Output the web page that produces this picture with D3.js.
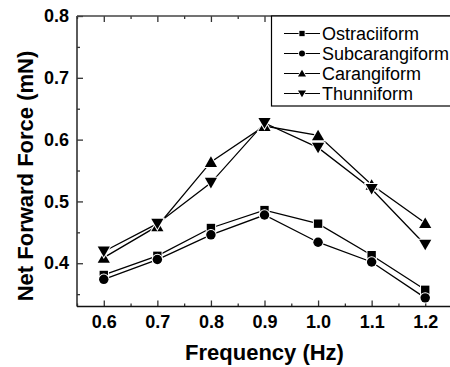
<!doctype html>
<html>
<head>
<meta charset="utf-8">
<title>Net Forward Force vs Frequency</title>
<script src="https://cdn.jsdelivr.net/npm/d3@7"></script>
<style>
  body { margin: 0; background: white; }
  svg { display: block; font-family: "Liberation Sans", Arial, sans-serif; }
</style>
</head>
<body>
<svg id="chart" width="450" height="367"></svg>
<script>
var freq = [0.6, 0.7, 0.8, 0.9, 1.0, 1.1, 1.2];
var ostraciiform   = [0.381, 0.412, 0.457, 0.486, 0.464, 0.413, 0.357];
var subcarangiform = [0.374, 0.406, 0.446, 0.478, 0.434, 0.402, 0.344];
var carangiform    = [0.409, 0.460, 0.564, 0.622, 0.607, 0.527, 0.465];
var thunniform     = [0.419, 0.464, 0.530, 0.627, 0.587, 0.520, 0.430];
var xTicks = [0.6, 0.7, 0.8, 0.9, 1.0, 1.1, 1.2];
var yTicks = [0.4, 0.5, 0.6, 0.7, 0.8];

var series = [
  {name: 'Ostraciiform', values: ostraciiform, sym: d3.symbolSquare, size: 70, rot: 0},
  {name: 'Subcarangiform', values: subcarangiform, sym: d3.symbolCircle, size: 70, rot: 0},
  {name: 'Carangiform', values: carangiform, sym: d3.symbolTriangle, size: 64, rot: 0},
  {name: 'Thunniform', values: thunniform, sym: d3.symbolTriangle, size: 64, rot: 180}
];

// plot box (note: "top" is reserved on window, so use pTop)
var pLeft = 77, pRight = 452, pTop = 16, pBottom = 306.5;
var svg = d3.select('#chart');

var x = d3.scaleLinear().domain([0.55, 1.25]).range([pLeft, pRight]);
var y = d3.scaleLinear().domain([0.33, 0.8]).range([pBottom, pTop]);

var axisColor = '#333';
var xMinor = [0.55, 0.65, 0.75, 0.85, 0.95, 1.05, 1.15, 1.25];
var yMinor = [0.35, 0.45, 0.55, 0.65, 0.75];

function styleAxis(g) {
  g.select('.domain').remove();
  g.selectAll('line').attr('stroke', axisColor).attr('stroke-width', 1.3);
}
function styleLabels(g) {
  g.attr('font-family', null).attr('font-size', null);
  g.selectAll('text').attr('font-size', 18).attr('font-weight', 'bold').attr('fill', 'black');
}

// bottom
svg.append('g').attr('transform', 'translate(0,' + pBottom + ')')
  .call(d3.axisBottom(x).tickValues(xTicks).tickSizeInner(-6).tickSizeOuter(0).tickFormat(d3.format('.1f')).tickPadding(9))
  .call(styleAxis).call(styleLabels);
svg.append('g').attr('transform', 'translate(0,' + pBottom + ')')
  .call(d3.axisBottom(x).tickValues(xMinor).tickSizeInner(-3).tickSizeOuter(0).tickFormat(''))
  .call(styleAxis);
// top
svg.append('g').attr('transform', 'translate(0,' + pTop + ')')
  .call(d3.axisTop(x).tickValues(xTicks).tickSizeInner(-6).tickSizeOuter(0).tickFormat(''))
  .call(styleAxis);
svg.append('g').attr('transform', 'translate(0,' + pTop + ')')
  .call(d3.axisTop(x).tickValues(xMinor).tickSizeInner(-3).tickSizeOuter(0).tickFormat(''))
  .call(styleAxis);
// left
svg.append('g').attr('transform', 'translate(' + pLeft + ',0)')
  .call(d3.axisLeft(y).tickValues(yTicks).tickSizeInner(-6).tickSizeOuter(0).tickFormat(d3.format('.1f')).tickPadding(8))
  .call(styleAxis).call(styleLabels);
svg.append('g').attr('transform', 'translate(' + pLeft + ',0)')
  .call(d3.axisLeft(y).tickValues(yMinor).tickSizeInner(-3).tickSizeOuter(0).tickFormat(''))
  .call(styleAxis);

// frame lines
svg.append('line').attr('x1', pLeft).attr('x2', pLeft).attr('y1', pTop).attr('y2', pBottom)
  .attr('stroke', axisColor).attr('stroke-width', 1.6);
svg.append('line').attr('x1', pLeft).attr('x2', pRight).attr('y1', pBottom).attr('y2', pBottom)
  .attr('stroke', '#111').attr('stroke-width', 1.6);
svg.append('line').attr('x1', pLeft).attr('x2', pRight).attr('y1', pTop).attr('y2', pTop)
  .attr('stroke', '#444').attr('stroke-width', 1.6);

// lines
var line = d3.line()
  .x(function (d, i) { return x(freq[i]); })
  .y(function (d) { return y(d); });

series.forEach(function (s) {
  svg.append('path')
    .datum(s.values)
    .attr('d', line)
    .attr('fill', 'none')
    .attr('stroke', 'black')
    .attr('stroke-width', 1.3);
});

// markers with white halo to mimic the gaps around symbols
series.forEach(function (s) {
  var sym = d3.symbol().type(s.sym).size(s.size);
  svg.append('g').selectAll('path')
    .data(s.values)
    .enter().append('path')
    .attr('d', sym)
    .attr('transform', function (d, i) {
      var dy = s.rot ? -1.5 : (s.sym === d3.symbolTriangle ? 1.5 : 0);
      return 'translate(' + x(freq[i]) + ',' + (y(d) + dy) + ') rotate(' + s.rot + ')';
    })
    .attr('fill', 'black')
    .attr('stroke', 'white')
    .attr('stroke-width', 2)
    .attr('paint-order', 'stroke');
});

// legend
var lg = svg.append('g');
lg.append('rect')
  .attr('x', 271.5).attr('y', pTop).attr('width', 200).attr('height', 90)
  .attr('fill', 'white').attr('stroke', 'black').attr('stroke-width', 1.2);
series.forEach(function (s, i) {
  var cy = 33.5 + i * 20;
  lg.append('line').attr('x1', 284).attr('x2', 320).attr('y1', cy).attr('y2', cy)
    .attr('stroke', 'black').attr('stroke-width', 1.2);
  var sym = d3.symbol().type(s.sym).size(28);
  var dy = s.rot ? -0.8 : (s.sym === d3.symbolTriangle ? 0.8 : 0);
  lg.append('path')
    .attr('d', sym)
    .attr('transform', 'translate(302,' + (cy + dy) + ') rotate(' + s.rot + ')')
    .attr('fill', 'black').attr('stroke', 'white').attr('stroke-width', 1.5).attr('paint-order', 'stroke');
  lg.append('text')
    .attr('x', 322).attr('y', cy + 6.5)
    .attr('font-size', 18)
    .text(s.name);
});

// axis titles
svg.append('text')
  .attr('x', (pLeft + pRight) / 2).attr('y', 360)
  .attr('text-anchor', 'middle')
  .attr('font-size', 22).attr('font-weight', 'bold')
  .text('Frequency (Hz)');
svg.append('text')
  .attr('transform', 'translate(33,176) rotate(-90)')
  .attr('text-anchor', 'middle')
  .attr('font-size', 22).attr('font-weight', 'bold')
  .text('Net Forward Force (mN)');
</script>
</body>
</html>
